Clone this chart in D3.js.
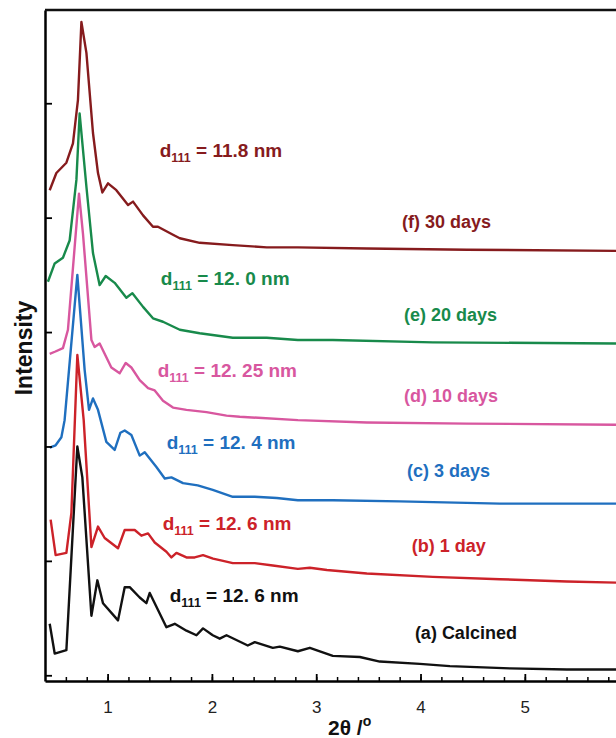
<!DOCTYPE html>
<html>
<head>
<meta charset="utf-8">
<script src="https://cdn.jsdelivr.net/npm/d3@7"></script>
<style>
  body { margin: 0; background: #fff; }
  text { font-family: "Liberation Sans", Arial, sans-serif; }
</style>
</head>
<body>
<div class="chart"></div>
<script>
// SAXS patterns, curves offset vertically; x = 2theta (deg), y = intensity (a.u., stacked)
var seriesA = [[0.445,0.45],[0.493,0.19],[0.605,0.22],[0.71,2.00],[0.758,1.73],[0.845,0.52],[0.902,0.83],[0.956,0.63],
  [1.10,0.48],[1.164,0.77],[1.212,0.77],[1.308,0.68],[1.372,0.63],[1.404,0.72],[1.564,0.42],[1.644,0.45],[1.756,0.39],
  [1.852,0.35],[1.915,0.41],[2.008,0.35],[2.075,0.32],[2.14,0.35],[2.344,0.26],[2.411,0.29],[2.584,0.24],[2.651,0.25],
  [2.824,0.21],[2.939,0.24],[3.159,0.17],[3.418,0.16],[3.61,0.12],[3.994,0.10],[4.281,0.08],[4.857,0.06],[5.403,0.05],[5.874,0.05]];
var seriesB = [[0.454,1.36],[0.502,1.05],[0.605,1.07],[0.653,1.42],[0.71,2.80],[0.771,2.23],[0.845,1.12],[0.908,1.30],
  [0.972,1.20],[1.10,1.11],[1.164,1.27],[1.26,1.27],[1.324,1.22],[1.388,1.24],[1.452,1.16],[1.564,1.08],[1.612,1.03],
  [1.66,1.07],[1.756,1.03],[1.835,1.03],[1.915,1.05],[2.011,1.02],[2.107,1.00],[2.20,0.98],[2.411,0.98],[2.584,0.96],
  [2.824,0.93],[2.939,0.94],[3.102,0.92],[3.485,0.89],[4.118,0.86],[4.761,0.84],[5.403,0.82],[5.874,0.81]];
var seriesC = [[0.445,1.99],[0.502,2.01],[0.557,2.08],[0.588,2.23],[0.71,3.50],[0.78,2.67],[0.822,2.32],[0.86,2.42],
  [0.908,2.32],[0.988,2.04],[1.068,1.97],[1.123,2.12],[1.164,2.14],[1.228,2.10],[1.308,1.92],[1.356,1.95],[1.468,1.82],
  [1.548,1.72],[1.612,1.73],[1.723,1.68],[1.864,1.66],[2.008,1.62],[2.20,1.56],[2.411,1.56],[2.622,1.55],[2.824,1.53],
  [3.159,1.53],[3.802,1.52],[4.761,1.50],[5.874,1.50]];
var seriesD = [[0.445,2.81],[0.50,2.83],[0.572,2.86],[0.62,3.02],[0.684,3.74],[0.726,4.21],[0.764,3.86],[0.845,2.93],
  [0.876,2.87],[0.924,2.90],[1.036,2.69],[1.116,2.64],[1.174,2.73],[1.228,2.69],[1.308,2.58],[1.388,2.51],[1.452,2.49],
  [1.531,2.40],[1.627,2.34],[1.756,2.32],[1.948,2.30],[2.14,2.27],[2.267,2.26],[2.824,2.23],[3.485,2.21],[4.444,2.20],[5.874,2.19]];
var seriesE = [[0.428,3.44],[0.493,3.60],[0.572,3.65],[0.636,3.80],[0.701,4.33],[0.732,4.91],[0.797,4.27],[0.86,3.69],
  [0.924,3.41],[0.982,3.49],[1.068,3.43],[1.18,3.30],[1.238,3.34],[1.34,3.22],[1.435,3.12],[1.531,3.09],[1.692,3.02],
  [1.883,2.99],[2.20,2.95],[2.526,2.95],[2.824,2.93],[3.159,2.93],[4.118,2.91],[5.874,2.90]];
var seriesF = [[0.445,4.24],[0.509,4.39],[0.605,4.48],[0.668,4.65],[0.716,5.03],[0.749,5.71],[0.797,5.44],[0.86,4.74],
  [0.908,4.39],[0.95,4.22],[1.004,4.30],[1.084,4.24],[1.196,4.11],[1.244,4.14],[1.34,4.02],[1.435,3.92],[1.483,3.92],
  [1.627,3.85],[1.692,3.82],[1.883,3.78],[2.20,3.76],[2.526,3.74],[2.824,3.74],[3.485,3.73],[4.444,3.72],[5.874,3.71]];

var sampleNames = ["(a) Calcined", "(b) 1 day", "(c) 3 days", "(d) 10 days", "(e) 20 days", "(f) 30 days"];
var dSpacings = ["12. 6", "12. 6", "12. 4", "12. 25", "12. 0", "11.8"];
var colors = ["#111111", "#cc2229", "#1f6fbf", "#d8579f", "#188a4b", "#861b1d"];
// label anchors in data units: [2theta, intensity]
var dLabelPos = [[1.596,0.64],[1.528,1.27],[1.567,1.98],[1.48,2.61],[1.51,3.41],[1.50,4.53]];
var nameLabelPos = [[3.946,0.32],[3.917,1.08],[3.87,1.73],[3.841,2.39],[3.841,3.10],[3.822,3.91]];
var xTicks = [1, 2, 3, 4, 5];
var yTicks = [0, 1, 2, 3, 4, 5];

var allSeries = [seriesA, seriesB, seriesC, seriesD, seriesE, seriesF];

var svgWidth = 616;
var svgHeight = 738;

var svg = d3.select(".chart")
  .append("svg")
  .attr("width", svgWidth)
  .attr("height", svgHeight);

var x = d3.scaleLinear().domain([0.4, 5.874]).range([45, 616]);
var y = d3.scaleLinear().domain([-0.05, 5.815]).range([681, 10]);

var line = d3.line()
  .x(d => x(d[0]))
  .y(d => y(d[1]));

svg.selectAll(".curve")
  .data(allSeries)
  .enter()
  .append("path")
  .attr("class", "curve")
  .attr("d", line)
  .attr("fill", "none")
  .attr("stroke", (d, i) => colors[i])
  .attr("stroke-width", 2.4)
  .attr("stroke-linejoin", "round");

// minor x ticks
svg.append("g")
  .attr("transform", `translate(0, ${y(-0.05)})`)
  .call(d3.axisBottom(x)
    .tickValues(d3.range(0.6, 5.81, 0.2))
    .tickSizeInner(-4)
    .tickSizeOuter(0)
    .tickFormat(""))
  .call(g => g.select(".domain").remove())
  .selectAll("line").attr("stroke-width", 1.5);

// major x ticks + labels
var xAxis = svg.append("g")
  .attr("transform", `translate(0, ${y(-0.05)})`)
  .call(d3.axisBottom(x)
    .tickValues(xTicks)
    .tickFormat(d3.format("d"))
    .tickSizeInner(-7)
    .tickSizeOuter(0)
    .tickPadding(20));
xAxis.select(".domain").attr("stroke-width", 2.5);
xAxis.selectAll("line").attr("stroke-width", 1.8);
xAxis.selectAll("text")
  .attr("font-size", 17)
  .attr("font-family", "Liberation Sans, Arial, sans-serif")
  .attr("fill", "#222");

var yAxis = svg.append("g")
  .attr("transform", `translate(${x(0.4)}, 0)`)
  .call(d3.axisLeft(y)
    .tickValues(yTicks)
    .tickSizeInner(-7)
    .tickSizeOuter(0)
    .tickFormat(""));
yAxis.select(".domain").attr("stroke-width", 2.5);
yAxis.selectAll("line").attr("stroke-width", 1.8);

// top frame line
svg.append("line")
  .attr("x1", x(0.4)).attr("x2", x(5.874))
  .attr("y1", y(5.815)).attr("y2", y(5.815))
  .attr("stroke", "#111")
  .attr("stroke-width", 2.5);

// d111 labels
var dLab = svg.selectAll(".dlab")
  .data(dSpacings)
  .enter()
  .append("text")
  .attr("class", "dlab")
  .attr("x", (d, i) => x(dLabelPos[i][0]))
  .attr("y", (d, i) => y(dLabelPos[i][1]))
  .attr("fill", (d, i) => colors[i])
  .attr("font-size", 19)
  .attr("font-weight", "bold");
dLab.append("tspan").text("d");
dLab.append("tspan").attr("font-size", 12.5).attr("dy", 5).text("111");
dLab.append("tspan").attr("dy", -5).text(d => " = " + d + " nm");

svg.selectAll(".nlab")
  .data(sampleNames)
  .enter()
  .append("text")
  .attr("class", "nlab")
  .attr("x", (d, i) => x(nameLabelPos[i][0]))
  .attr("y", (d, i) => y(nameLabelPos[i][1]))
  .attr("fill", (d, i) => colors[i])
  .attr("font-size", 18)
  .attr("font-weight", "bold")
  .text(d => d);

// axis titles
svg.append("text")
  .attr("transform", "translate(32, 348) rotate(-90)")
  .attr("text-anchor", "middle")
  .attr("font-size", 23)
  .attr("font-weight", "bold")
  .attr("fill", "#111")
  .text("Intensity");

var xTitle = svg.append("text")
  .attr("x", 328)
  .attr("y", 735)
  .attr("font-size", 21)
  .attr("font-weight", "bold")
  .attr("fill", "#111");
xTitle.append("tspan").text("2θ /");
xTitle.append("tspan").attr("font-size", 14).attr("dy", -9).text("o");
</script>
</body>
</html>
